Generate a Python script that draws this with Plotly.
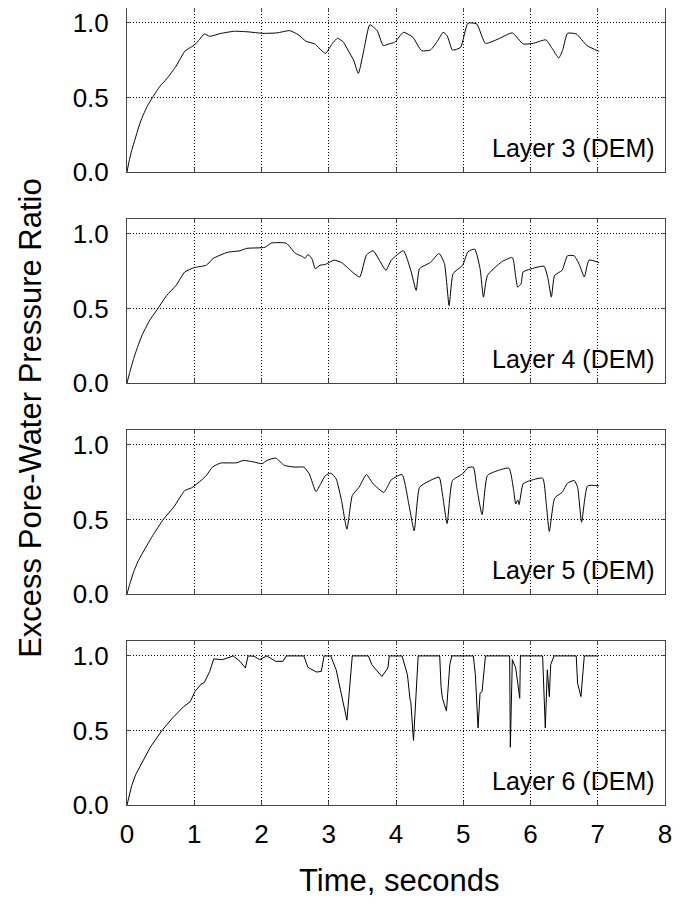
import plotly.graph_objects as go
from plotly.subplots import make_subplots

# ---- data (time in seconds, excess pore-water pressure ratio) ----
layer3_t = [0.0, 0.03, 0.07, 0.12, 0.17, 0.22, 0.3, 0.38, 0.49, 0.59, 0.73, 0.86, 0.96, 1.0, 1.08, 1.15, 1.23, 1.4, 1.6, 1.8, 2.02, 2.23, 2.42,
            2.55, 2.66, 2.79, 2.95, 3.05, 3.13, 3.22, 3.29, 3.37, 3.44, 3.53, 3.61, 3.72, 3.81, 3.9, 3.98, 4.11, 4.25,
            4.38, 4.51, 4.62, 4.7, 4.76, 4.84, 4.96, 5.07, 5.2, 5.33, 5.52, 5.73, 5.89, 6.04, 6.23, 6.32, 6.42, 6.48,
            6.55, 6.68, 6.84, 7.02]
layer3_v = [0.0, 0.07, 0.145, 0.22, 0.295, 0.36, 0.44, 0.5, 0.575, 0.625, 0.71, 0.81, 0.84, 0.85, 0.89, 0.926, 0.91, 0.93, 0.944, 0.94, 0.93, 0.933, 0.948,
            0.92, 0.877, 0.859, 0.796, 0.86, 0.897, 0.87, 0.814, 0.75, 0.661, 0.836, 0.987, 0.948, 0.848, 0.86, 0.87,
            0.937, 0.904, 0.814, 0.818, 0.88, 0.937, 0.915, 0.818, 0.836, 0.998, 0.993, 0.863, 0.892, 0.933, 0.859,
            0.863, 0.886, 0.83, 0.765, 0.82, 0.93, 0.926, 0.848, 0.809]

layer4_t = [0.0, 0.04, 0.1, 0.16, 0.22, 0.33, 0.46, 0.59, 0.73, 0.86, 1.0, 1.18, 1.28, 1.49, 1.68, 1.78, 2.05, 2.15, 2.37, 2.5, 2.6,
            2.65, 2.69, 2.75, 2.8, 2.87, 2.95, 3.08, 3.19, 3.24, 3.35, 3.46, 3.56, 3.66, 3.85, 3.93, 4.11, 4.22, 4.3,
            4.35, 4.51, 4.64, 4.72, 4.79, 4.85, 4.99, 5.07, 5.17, 5.25, 5.3, 5.36, 5.57, 5.73, 5.78, 5.81, 5.86, 5.89,
            5.99, 6.2, 6.26, 6.31, 6.36, 6.47, 6.55, 6.65, 6.73, 6.8, 6.87, 7.02]
layer4_v = [0.0, 0.07, 0.165, 0.245, 0.316, 0.415, 0.5, 0.587, 0.655, 0.745, 0.774, 0.79, 0.835, 0.876, 0.887, 0.903, 0.91, 0.939, 0.937, 0.871, 0.85,
            0.837, 0.862, 0.833, 0.767, 0.79, 0.795, 0.824, 0.808, 0.79, 0.745, 0.711, 0.858, 0.887, 0.756, 0.824, 0.887,
            0.756, 0.621, 0.767, 0.808, 0.869, 0.801, 0.519, 0.734, 0.79, 0.88, 0.898, 0.767, 0.576, 0.722, 0.812, 0.842,
            0.711, 0.643, 0.666, 0.745, 0.763, 0.783, 0.7, 0.576, 0.722, 0.756, 0.853, 0.853, 0.79, 0.711, 0.824, 0.808]

layer5_t = [0.0, 0.04, 0.1, 0.16, 0.22, 0.38, 0.54, 0.7, 0.86, 0.96, 1.1, 1.18, 1.27, 1.39, 1.63, 1.73, 1.89, 2.01, 2.08, 2.21, 2.34, 2.5,
            2.63, 2.71, 2.81, 2.88, 2.95, 3.03, 3.11, 3.19, 3.27, 3.35, 3.45, 3.56, 3.66, 3.82, 3.93, 4.09, 4.19, 4.27,
            4.35, 4.46, 4.64, 4.69, 4.76, 4.84, 4.99, 5.07, 5.15, 5.2, 5.28, 5.36, 5.52, 5.68, 5.75, 5.78, 5.81, 5.83,
            5.89, 5.97, 6.18, 6.23, 6.28, 6.36, 6.47, 6.55, 6.65, 6.7, 6.76, 6.85, 7.02]
layer5_v = [0.0, 0.065, 0.15, 0.215, 0.266, 0.39, 0.5, 0.586, 0.694, 0.712, 0.761, 0.795, 0.851, 0.878, 0.88, 0.896, 0.885, 0.874, 0.896, 0.912, 0.863, 0.851,
            0.851, 0.806, 0.687, 0.739, 0.795, 0.81, 0.772, 0.626, 0.435, 0.66, 0.716, 0.801, 0.739, 0.682, 0.766, 0.801,
            0.604, 0.424, 0.716, 0.75, 0.784, 0.671, 0.473, 0.761, 0.806, 0.847, 0.851, 0.716, 0.532, 0.795, 0.829,
            0.844, 0.694, 0.604, 0.631, 0.6, 0.739, 0.757, 0.777, 0.626, 0.419, 0.644, 0.682, 0.743, 0.761, 0.716,
            0.482, 0.725, 0.725]

layer6_t = [0.0, 0.035, 0.07, 0.13, 0.2, 0.35, 0.52, 0.68, 0.84, 0.94, 1.01, 1.1, 1.15, 1.23, 1.29, 1.42, 1.58, 1.68, 1.76, 1.8, 1.89, 1.97,
            2.08, 2.21, 2.32, 2.37, 2.63, 2.69, 2.82, 2.89, 2.93, 3.03, 3.11, 3.27, 3.35, 3.59, 3.64, 3.79, 3.88, 3.9,
            4.09, 4.17, 4.21, 4.22, 4.26, 4.33, 4.65, 4.67, 4.69, 4.75, 4.8, 4.83, 5.15, 5.18, 5.22, 5.25, 5.28, 5.33,
            5.69, 5.7, 5.73, 5.78, 5.84, 5.85, 6.18, 6.22, 6.25, 6.28, 6.3, 6.35, 6.68, 6.7, 6.75, 6.8, 7.0]
layer6_v = [0.0, 0.07, 0.13, 0.205, 0.264, 0.39, 0.5, 0.585, 0.659, 0.693, 0.761, 0.81, 0.822, 0.896, 0.98, 0.975, 1.0, 0.964, 0.919, 1.0, 0.998, 0.975,
            1.0, 0.964, 0.964, 1.0, 1.0, 0.923, 0.892, 0.896, 1.0, 1.0, 0.907, 0.569, 1.0, 1.0, 0.941, 0.862, 0.919, 1.0,
            1.0, 0.874, 0.704, 0.693, 0.433, 1.0, 1.0, 0.795, 0.716, 0.63, 0.941, 1.0, 1.0, 0.874, 0.517, 0.75, 0.761, 1.0,
            1.0, 0.388, 0.975, 0.919, 0.716, 1.0, 1.0, 0.517, 0.907, 0.727, 0.941, 1.0, 1.0, 0.817, 0.727, 1.0, 1.0]

series_t = [layer3_t, layer4_t, layer5_t, layer6_t]
series_v = [layer3_v, layer4_v, layer5_v, layer6_v]
labels = ["Layer 3 (DEM)", "Layer 4 (DEM)", "Layer 5 (DEM)", "Layer 6 (DEM)"]
x_ticks = [0, 1, 2, 3, 4, 5, 6, 7, 8]
y_ticks = [0.0, 0.5, 1.0]
y_ticktext = ["0.0", "0.5", "1.0"]

FONT = "Liberation Sans, Arial, Helvetica, sans-serif"
GRID_DASH = "1px,2px"

fig = make_subplots(rows=4, cols=1, shared_xaxes=False, vertical_spacing=0.059)

for i in range(4):
    r = i + 1
    shape = "linear" if r == 4 else "spline"
    fig.add_trace(go.Scatter(x=series_t[i], y=series_v[i], mode="lines",
                             line=dict(color="black", width=1, shape=shape, smoothing=0.5),
                             showlegend=False, hoverinfo="skip"), row=r, col=1)
    fig.update_xaxes(range=[0, 8], tickvals=x_ticks, showgrid=True, gridcolor="black",
                     griddash=GRID_DASH, gridwidth=1, showline=True, linecolor="#444",
                     linewidth=1, mirror="ticks", ticks="inside", ticklen=4,
                     tickcolor="#444", zeroline=False, automargin=False,
                     showticklabels=(r == 4), ticklabelstandoff=6,
                     tickfont=dict(family=FONT, size=26, color="black"),
                     row=r, col=1)
    fig.update_yaxes(range=[0, 1.1], tickvals=y_ticks, ticktext=y_ticktext,
                     showgrid=True, gridcolor="black", griddash=GRID_DASH, gridwidth=1,
                     showline=True, linecolor="#444", linewidth=1, mirror="ticks",
                     ticks="inside", ticklen=4, tickcolor="#444", zeroline=False,
                     ticklabelstandoff=12, automargin=False,
                     tickfont=dict(family=FONT, size=26, color="black"),
                     row=r, col=1)
    xref = "x" if r == 1 else f"x{r}"
    yref = "y" if r == 1 else f"y{r}"
    fig.add_annotation(x=7.88, y=0.16, xref=xref, yref=yref, text=labels[i],
                       showarrow=False, xanchor="right", yanchor="middle",
                       font=dict(family=FONT, size=25, color="black"))

fig.add_annotation(x=-0.18, y=0.486, xref="paper", yref="paper",
                   text="Excess Pore-Water Pressure Ratio", textangle=-90,
                   showarrow=False, xanchor="center", yanchor="middle",
                   font=dict(family=FONT, size=31, color="black"))
fig.add_annotation(x=0.505, y=-0.095, xref="paper", yref="paper",
                   text="Time, seconds", showarrow=False,
                   xanchor="center", yanchor="middle",
                   font=dict(family=FONT, size=31, color="black"))

fig.update_layout(width=694, height=913, plot_bgcolor="white", paper_bgcolor="white",
                  margin=dict(l=119, r=37, t=0, b=116), showlegend=False)

fig.write_html("out.html")
